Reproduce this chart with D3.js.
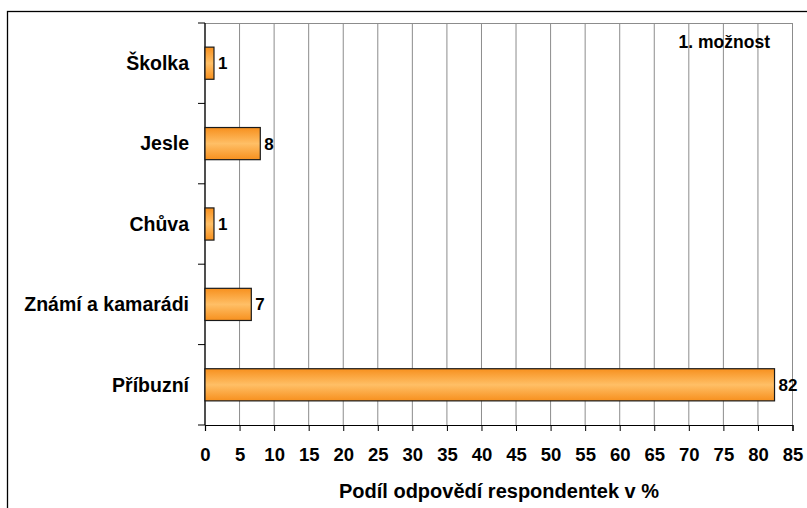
<!DOCTYPE html>
<html>
<head>
<meta charset="utf-8">
<script src="https://cdn.jsdelivr.net/npm/d3@7"></script>
<style>
  body { margin: 0; background: #fff; }
  text { font-family: "Liberation Sans", Arial, sans-serif; font-weight: bold; fill: #000; }
</style>
</head>
<body>
<div id="chart"></div>
<script>
// care types and share of respondents (%)
var categories = ["Školka", "Jesle", "Chůva", "Známí a kamarádi", "Příbuzní"]
var values = [1.3, 8.0, 1.3, 6.7, 82.4]
var xTicks = d3.range(0, 90, 5)
var axisTitle = "Podíl odpovědí respondentek v %"
var note = "1. možnost"

var W = 807, H = 508
var margin = {top: 23, right: 14, bottom: 83, left: 205}
var width = 792.5 - margin.left
var height = 425 - margin.top

var svg = d3.select("#chart").append("svg")
    .attr("width", W)
    .attr("height", H)

// outer frame
svg.append("rect")
    .attr("x", 7.5).attr("y", 11.5)
    .attr("width", W + 10).attr("height", H + 10)
    .attr("fill", "none").attr("stroke", "#000").attr("stroke-width", 1.3)

var defs = svg.append("defs")
var grad = defs.append("linearGradient")
    .attr("id", "barGrad").attr("x1", 0).attr("y1", 0).attr("x2", 0).attr("y2", 1)
grad.append("stop").attr("offset", "0%").attr("stop-color", "#f7901e")
grad.append("stop").attr("offset", "50%").attr("stop-color", "#ffbf66")
grad.append("stop").attr("offset", "100%").attr("stop-color", "#f7901e")

var g = svg.append("g")
    .attr("transform", "translate(" + margin.left + "," + margin.top + ")")

var x = d3.scaleLinear().domain([0, 85]).range([0, width])
var y = d3.scaleBand().domain(categories).range([0, height]).paddingInner(0.6).paddingOuter(0.3)

// vertical grid
g.append("g")
    .selectAll("line")
    .data(xTicks)
    .enter().append("line")
    .attr("x1", function (d) { return x(d) }).attr("x2", function (d) { return x(d) })
    .attr("y1", 0).attr("y2", height)
    .attr("stroke", "#8c8c8c").attr("stroke-width", 1)

// top plot border
g.append("line").attr("x1", 0).attr("x2", width).attr("y1", 0.5).attr("y2", 0.5)
    .attr("stroke", "#8c8c8c")

// bottom axis
var xAxis = g.append("g")
    .attr("transform", "translate(0," + height + ")")
    .call(d3.axisBottom(x).tickValues(xTicks).tickSize(6).tickPadding(17))
xAxis.select(".domain").attr("stroke", "#000").attr("stroke-width", 1.2)
xAxis.selectAll(".tick line").attr("stroke", "#000")
xAxis.selectAll("text").attr("fill", "#000").style("font-size", "18.5px")
    .style("font-family", "Liberation Sans, Arial, sans-serif").style("font-weight", "bold")

// left axis with ticks between categories
var yStep = height / categories.length
var yAxis = g.append("g")
yAxis.append("line").attr("x1", 0).attr("x2", 0).attr("y1", 0).attr("y2", height)
    .attr("stroke", "#000").attr("stroke-width", 1.2)
yAxis.selectAll(".ytick")
    .data(d3.range(categories.length + 1))
    .enter().append("line")
    .attr("class", "ytick")
    .attr("x1", -7).attr("x2", 0)
    .attr("y1", function (d) { return d * yStep }).attr("y2", function (d) { return d * yStep })
    .attr("stroke", "#000")
yAxis.selectAll(".ylab")
    .data(categories)
    .enter().append("text")
    .attr("class", "ylab")
    .attr("x", -16)
    .attr("y", function (d) { return y(d) + y.bandwidth() / 2 })
    .attr("dy", "0.35em")
    .attr("text-anchor", "end")
    .style("font-size", "19.5px")
    .text(function (d) { return d })

// bars
g.selectAll(".bar")
    .data(values)
    .enter().append("rect")
    .attr("class", "bar")
    .attr("x", 0)
    .attr("y", function (d, i) { return y(categories[i]) })
    .attr("width", function (d) { return x(d) })
    .attr("height", y.bandwidth())
    .attr("fill", "url(#barGrad)")
    .attr("stroke", "#1a1a1a").attr("stroke-width", 1.2)

g.selectAll(".val")
    .data(values)
    .enter().append("text")
    .attr("class", "val")
    .attr("x", function (d) { return x(d) + 4 })
    .attr("y", function (d, i) { return y(categories[i]) + y.bandwidth() / 2 })
    .attr("dy", "0.35em")
    .style("font-size", "17px")
    .text(function (d) { return d3.format(".0f")(d) })

// note
g.append("text")
    .attr("x", 565).attr("y", 25)
    .attr("text-anchor", "end")
    .style("font-size", "17.5px")
    .text(note)

// axis title
svg.append("text")
    .attr("x", 499)
    .attr("y", 498)
    .attr("text-anchor", "middle")
    .style("font-size", "20px")
    .text(axisTitle)
</script>
</body>
</html>
